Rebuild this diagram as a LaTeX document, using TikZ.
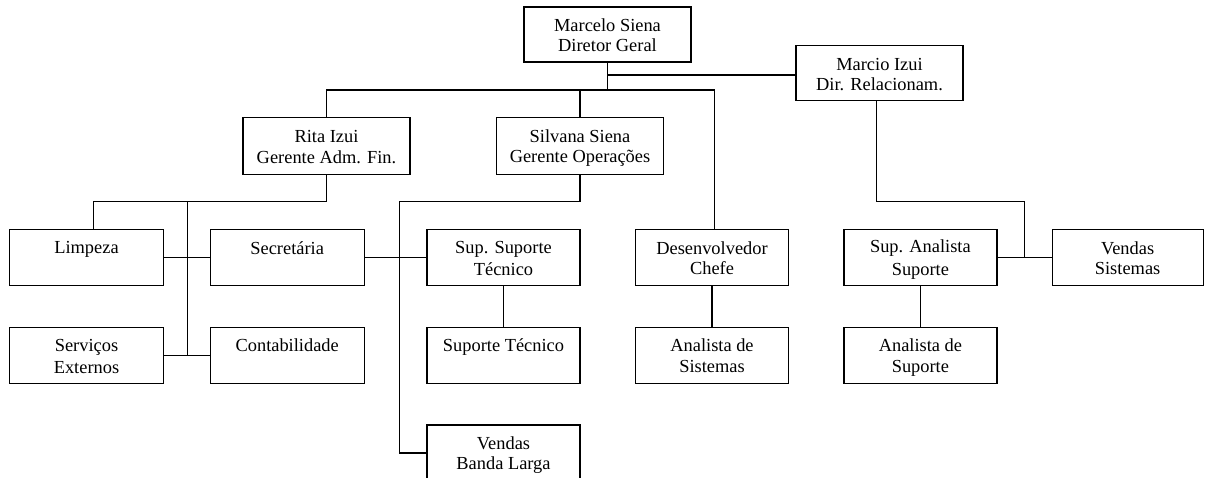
\documentclass[tikz,border=0pt]{standalone}
\usepackage{fontspec}
\setmainfont{Liberation Serif}
% line strut: every text line gets the same height and depth
\newcommand\ls{\rule[-3.3pt]{0pt}{20.6pt}}
\begin{document}
\begin{tikzpicture}[x=1pt,y=-1pt,
  orgbox/.style={draw, line width=1.2pt, inner sep=0pt, align=center,
    minimum width=153pt, minimum height=56pt,
    font=\fontsize{18.4}{20.6}\selectfont},
  topbox/.style={orgbox, minimum width=167pt, minimum height=55pt},
  link/.style={line width=1.2pt}]
\useasboundingbox (0,0) rectangle (1205,477);

% top level
\node[topbox] (marcelo) at (607.5,34.5) {\ls Marcelo Siena\\\ls Diretor Geral};
\node[topbox] (marcio)  at (879.5,73.3) {\ls Marcio Izui\\\ls Dir. Relacionam.};
\node[topbox, minimum height=56.6pt] (rita)    at (326.5,146) {\ls Rita Izui\\\ls Gerente Adm. Fin.};
\node[topbox, minimum height=56.6pt] (silvana) at (580,146)   {\ls Silvana Siena\\\ls Gerente Operações};

% staff row 1
\node[orgbox, minimum width=154pt] (limpeza)    at (86.5,257.3)  {\ls Limpeza\\\ls};
\node[orgbox, minimum width=154pt] (secretaria) at (287.2,257.3) {\ls Secretária\\\ls};
\node[orgbox] (supsup)  at (503.5,257.3) {\ls Sup. Suporte\\\ls Técnico};
\node[orgbox] (desenv)  at (712,257.3)   {\ls Desenvolvedor\\\ls Chefe};
\node[orgbox] (supanal) at (920.4,257.3) {\ls Sup. Analista\\\ls Suporte};
\node[orgbox, minimum width=151pt] (vendsis) at (1127.6,257.3) {\ls Vendas\\\ls Sistemas};

% staff row 2
\node[orgbox, minimum width=154pt] (servicos) at (86.5,355.2)  {\ls Serviços\\\ls Externos};
\node[orgbox, minimum width=154pt] (contab)   at (287.2,355.2) {\ls Contabilidade\\\ls};
\node[orgbox] (suptec)  at (503.5,355.2) {\ls Suporte Técnico\\\ls};
\node[orgbox] (analsis) at (712,355.2)   {\ls Analista de\\\ls Sistemas};
\node[orgbox] (analsup) at (920.4,355.2) {\ls Analista de\\\ls Suporte};

% row 3
\node[orgbox] (vendbl) at (503.5,453) {\ls Vendas\\\ls Banda Larga};

% junction points
\coordinate (bus)  at (607.5,90);
\coordinate (dv)   at (714.2,90);
\coordinate (mj)   at (607.5,75);
\coordinate (ra)   at (93.8,201.7);
\coordinate (rb)   at (187.5,201.7);
\coordinate (sa)   at (399.2,201.7);
\coordinate (ma)   at (876.2,201.7);
\coordinate (mb)   at (1024.8,201.7);

% director links
\draw[link] (marcelo.south) -- (bus);
\draw[link] (mj) -- (mj -| marcio.west);
\draw[link] (rita.north) |- (dv) -- (dv |- desenv.north);
\draw[link] (silvana.north) -- (silvana.north |- bus);

% Rita's staff
\draw[link] (rita.south) |- (ra) -- (ra |- limpeza.north);
\draw[link] (rb) -- (rb |- servicos.east);
\draw[link] (limpeza.east) -- (secretaria.west);
\draw[link] (servicos.east) -- (contab.west);

% Silvana's staff
\draw[link] (silvana.south) |- (sa) |- (vendbl.west);
\draw[link] (secretaria.east) -- (supsup.west);
\draw[link] (supsup.south) -- (suptec.north);

% development
\draw[link] (desenv.south) -- (analsis.north);

% Marcio's staff
\draw[link] (marcio.south -| ma) -- (ma) -- (mb) -- (mb |- vendsis.west);
\draw[link] (supanal.east) -- (vendsis.west);
\draw[link] (supanal.south) -- (analsup.north);
\end{tikzpicture}
\end{document}
